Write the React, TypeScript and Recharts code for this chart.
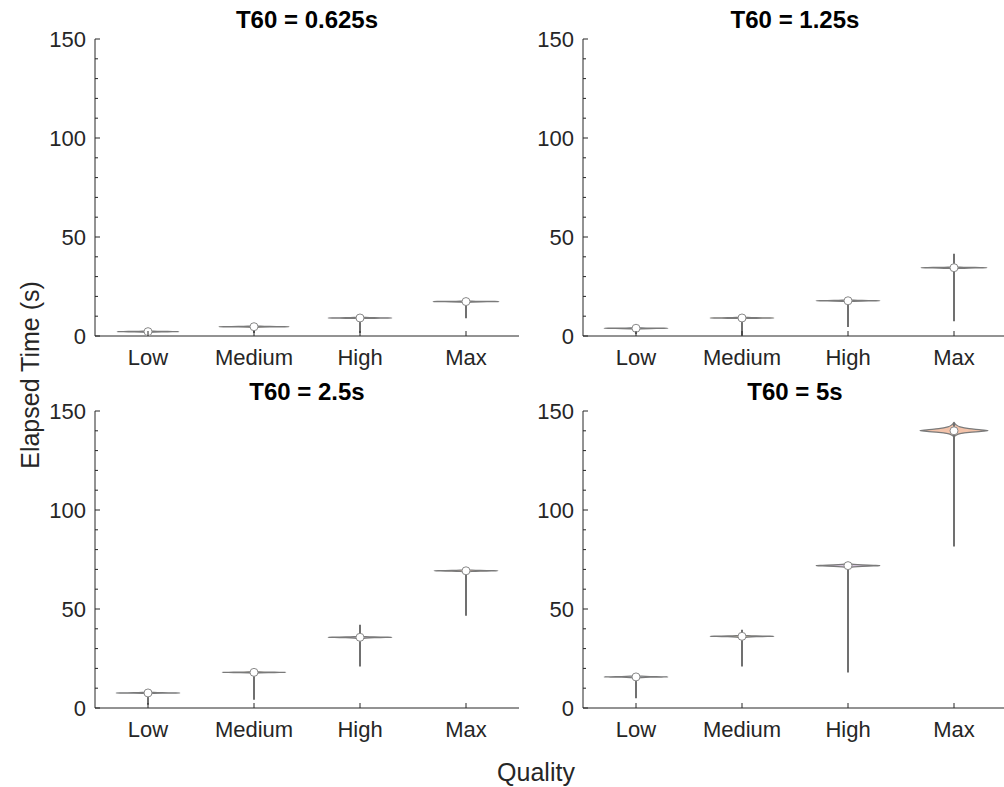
import { Area, ComposedChart, Line, XAxis, YAxis } from 'recharts'

const qualities = ['Low', 'Medium', 'High', 'Max']
const qualityPos = [1, 2, 3, 4]
const titles = ['T60 = 0.625s', 'T60 = 1.25s', 'T60 = 2.5s', 'T60 = 5s']

// median elapsed time (s), one row per T60 panel, one value per quality
const medians = [
  [2.2, 4.7, 9.1, 17.4],
  [3.9, 9.1, 17.8, 34.5],
  [7.6, 18.0, 35.7, 69.3],
  [15.7, 36.2, 71.9, 140.0],
]
const whiskerLow = [
  [1.6, 1.5, 1.5, 9.0],
  [1.0, 0.3, 4.5, 7.5],
  [1.7, 4.2, 21.0, 46.6],
  [4.9, 21.0, 17.9, 81.6],
]
const whiskerHigh = [
  [2.6, 5.0, 9.5, 18.0],
  [4.2, 9.5, 18.2, 41.5],
  [8.0, 18.4, 42.0, 70.0],
  [16.6, 39.5, 72.5, 144.0],
]
// how far each violin reaches below / above its median (s)
const spreadDown = [
  [0.6, 0.6, 0.6, 0.6],
  [0.6, 0.6, 0.6, 0.7],
  [0.6, 0.6, 0.8, 0.8],
  [0.7, 0.8, 1.4, 3.2],
]
const spreadUp = [
  [0.6, 0.6, 0.6, 0.6],
  [0.6, 0.6, 0.6, 0.7],
  [0.6, 0.6, 0.8, 0.8],
  [0.8, 0.8, 1.4, 4.4],
]
// widest half width, in quality units
const halfWidths = [
  [0.29, 0.33, 0.3, 0.31],
  [0.3, 0.3, 0.3, 0.31],
  [0.3, 0.3, 0.3, 0.3],
  [0.3, 0.3, 0.3, 0.32],
]
// normalised violin outline: -1 bottom tip, 0 median, 1 top tip
const outlinePos = [-1, -0.7, -0.45, -0.25, -0.1, 0, 0.1, 0.25, 0.45, 0.7, 1]
const outlineWidth = [0, 0.06, 0.18, 0.45, 0.8, 1, 0.8, 0.45, 0.18, 0.06, 0]
const violinColors = ['#c9dcee', '#f5e4b8', '#dccbe3', '#f3c3aa']

const yTicks = [0, 10, 20, 30, 40, 50, 60, 70, 80, 90, 100, 110, 120, 130, 140, 150]
const AXIS = '#262626'
const FONT = '"Liberation Sans", Arial, sans-serif'

function violinData(p: number, q: number) {
  const m = medians[p][q]
  const c = qualityPos[q]
  const hw = halfWidths[p][q]
  return outlinePos.map((t, i) => {
    const v = t < 0 ? m + t * spreadDown[p][q] : m + t * spreadUp[p][q]
    const w = outlineWidth[i] * hw
    return { v, span: [c - w, c + w] }
  })
}

function YTick(props: any) {
  const { x, y, payload } = props
  const major = payload.value % 50 === 0
  const ax = x + 9
  return (
    <g>
      <line x1={ax} x2={ax + (major ? 5 : 3)} y1={y} y2={y} stroke={AXIS} />
      {major && (
        <text x={x} y={y} dy={7.5} textAnchor="end" fontSize={22} fill={AXIS} fontFamily={FONT}>
          {payload.value}
        </text>
      )}
    </g>
  )
}

function XTick(props: any) {
  const { x, y, payload } = props
  return (
    <g>
      <line x1={x} x2={x} y1={y} y2={y - 5} stroke={AXIS} />
      <text x={x} y={y + 29} textAnchor="middle" fontSize={22} fill={AXIS} fontFamily={FONT}>
        {qualities[payload.value - 1]}
      </text>
    </g>
  )
}

function Panel({ p }: { p: number }) {
  const medianData = qualityPos.map((c, q) => ({ v: medians[p][q], x: c }))
  return (
    <ComposedChart
      width={540}
      height={380}
      layout="vertical"
      margin={{ top: 39, right: 21, bottom: 4, left: 20 }}
    >
      <XAxis
        type="number"
        dataKey="x"
        domain={[0.5, 4.5]}
        ticks={qualityPos}
        interval={0}
        allowDataOverflow
        height={40}
        tickSize={0}
        tickMargin={0}
        tick={<XTick />}
        axisLine={{ stroke: AXIS }}
      />
      <YAxis
        type="number"
        dataKey="v"
        domain={[0, 150]}
        ticks={yTicks}
        interval={0}
        reversed
        allowDataOverflow
        width={75}
        tickSize={0}
        tickMargin={9}
        tick={<YTick />}
        axisLine={{ stroke: AXIS }}
      />
      {qualityPos.map((c, q) => (
        <Area
          key={'violin' + q}
          data={violinData(p, q)}
          dataKey="span"
          type="monotone"
          fill={violinColors[q]}
          fillOpacity={1}
          stroke="#7a7a7a"
          strokeWidth={1.2}
          isAnimationActive={false}
        />
      ))}
      {qualityPos.map((c, q) => (
        <Line
          key={'whisker' + q}
          data={[
            { v: whiskerLow[p][q], x: c },
            { v: whiskerHigh[p][q], x: c },
          ]}
          dataKey="x"
          stroke="#707070"
          strokeWidth={2}
          dot={false}
          isAnimationActive={false}
        />
      ))}
      <Line
        data={medianData}
        dataKey="x"
        stroke="none"
        dot={{ r: 4, fill: '#ffffff', stroke: '#8a8a8a', strokeWidth: 1 }}
        isAnimationActive={false}
      />
    </ComposedChart>
  )
}

const panelLeft = [0, 488, 0, 488]
const panelTop = [0, 0, 372, 372]

export default function App() {
  return (
    <div
      style={{
        position: 'absolute',
        left: 0,
        top: 0,
        width: 1004,
        height: 787,
        overflow: 'hidden',
        background: '#ffffff',
        fontFamily: FONT,
      }}
    >
      {titles.map((t, p) => (
        <div key={t} style={{ position: 'absolute', left: panelLeft[p], top: panelTop[p] }}>
          <Panel p={p} />
        </div>
      ))}
      <svg
        width={1004}
        height={787}
        style={{ position: 'absolute', left: 0, top: 0, pointerEvents: 'none' }}
      >
        {titles.map((t, p) => (
          <text
            key={t}
            x={panelLeft[p] + 307}
            y={panelTop[p] + 28}
            textAnchor="middle"
            fontSize={24}
            fontWeight="bold"
            fill="#000"
            fontFamily={FONT}
          >
            {t}
          </text>
        ))}
        <text
          x={0}
          y={0}
          transform="translate(39 375) rotate(-90)"
          textAnchor="middle"
          fontSize={25}
          fill={AXIS}
          fontFamily={FONT}
        >
          Elapsed Time (s)
        </text>
        <text x={536} y={781} textAnchor="middle" fontSize={25} fill={AXIS} fontFamily={FONT}>
          Quality
        </text>
      </svg>
    </div>
  )
}
